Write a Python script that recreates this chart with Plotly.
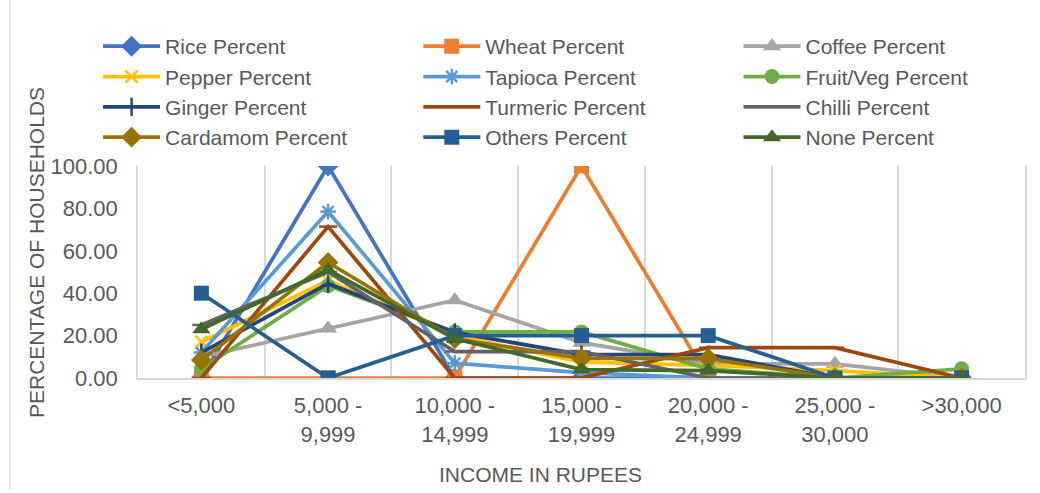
import plotly.graph_objects as go

categories = ["<5,000", "5,000 -<br>9,999", "10,000 -<br>14,999", "15,000 -<br>19,999",
              "20,000 -<br>24,999", "25,000 -<br>30,000", ">30,000"]

rice = [0, 100, 0, 0, 0, 0, 0]
wheat = [0, 0, 0, 100, 0, 0, 0]
coffee = [10, 23.33, 36.67, 16.67, 6.67, 6.67, 0]
pepper = [17, 46, 20, 7.5, 6, 3.5, 0]
tapioca = [12, 78.5, 7, 2.5, 0, 0, 0]
fruitveg = [4.35, 43.48, 21.74, 21.74, 4.35, 0, 4.35]
ginger = [12, 44.5, 21.5, 11, 11, 0, 0]
turmeric = [0, 71.43, 0, 0, 14.29, 14.29, 0]
chilli = [25, 50, 12.5, 12.5, 0, 0, 0]
cardamom = [8.5, 54.5, 18.5, 9.3, 9.2, 0, 0]
others = [40, 0, 20, 20, 20, 0, 0]
none_ = [23, 51, 18.5, 4, 3.5, 0, 0]

series = [
    ("Rice Percent", rice, "#4472C4", "diamond", 16, "legend"),
    ("Wheat Percent", wheat, "#ED7D31", "square", 15, "legend2"),
    ("Coffee Percent", coffee, "#A5A5A5", "triangle-up", 16, "legend3"),
    ("Pepper Percent", pepper, "#FFC000", "x-thin", 12, "legend"),
    ("Tapioca Percent", tapioca, "#5B9BD5", "asterisk", 13, "legend2"),
    ("Fruit/Veg Percent", fruitveg, "#70AD47", "circle", 15, "legend3"),
    ("Ginger Percent", ginger, "#264478", "line-ns", 13, "legend"),
    ("Turmeric Percent", turmeric, "#9E480E", "line-ew", 13, "legend2"),
    ("Chilli Percent", chilli, "#636363", "line-ew", 13, "legend3"),
    ("Cardamom Percent", cardamom, "#997300", "diamond", 16, "legend"),
    ("Others Percent", others, "#255E91", "square", 15, "legend2"),
    ("None Percent", none_, "#43682B", "triangle-up", 16, "legend3"),
]

fig = go.Figure()
for name, vals, color, sym, size, leg in series:
    open_sym = sym in ("x-thin", "asterisk", "line-ns", "line-ew")
    fig.add_trace(go.Scatter(
        x=categories, y=vals, name=name, mode="lines+markers",
        line=dict(color=color, width=3.75),
        marker=dict(symbol=sym, size=size, color=color,
                    line=dict(color=color, width=2.5 if open_sym else 0)),
        legend=leg,
    ))

txt = "#595959"
grid = "#D9D9D9"
legfont = dict(family="Liberation Sans, Arial, sans-serif", size=21, color=txt)
ly = 1.66
common = dict(xanchor="left", yanchor="top", y=ly, font=legfont,
              bgcolor="rgba(0,0,0,0)", itemwidth=57, tracegroupgap=0)

fig.update_layout(
    width=1040, height=493,
    margin=dict(l=138, r=15, t=166, b=115, autoexpand=False),
    paper_bgcolor="white", plot_bgcolor="white",
    font=dict(family="Liberation Sans, Arial, sans-serif", color=txt),
    legend=dict(x=-0.045, **common),
    legend2=dict(x=0.316, **common),
    legend3=dict(x=0.677, **common),
    xaxis=dict(
        type="category", tickson="boundaries", showgrid=True, gridcolor=grid, gridwidth=1.5,
        showline=True, linecolor=grid, linewidth=1.5, ticks="", automargin=False,
        tickfont=dict(size=22, color=txt), range=[-0.5, 6.5], ticklabelstandoff=7,
    ),
    yaxis=dict(
        range=[0, 100], dtick=20, tickformat=".2f", showgrid=False, zeroline=False,
        showline=True, mirror=True, linecolor=grid, linewidth=1.5, ticks="", automargin=False,
        tickfont=dict(size=22, color=txt), ticklabelstandoff=14,
    ),
    annotations=[
        dict(text="PERCENTAGE OF HOUSEHOLDS", xref="paper", yref="paper",
             x=(36 - 138) / 887, y=(378 - 253) / 212, textangle=-90,
             xanchor="center", yanchor="middle",
             showarrow=False, font=dict(size=21, color=txt)),
        dict(text="INCOME IN RUPEES", xref="paper", yref="paper",
             x=(540 - 138) / 887, y=(378 - 474) / 212,
             xanchor="center", yanchor="middle",
             showarrow=False, font=dict(size=21, color=txt)),
    ],
    shapes=[
        dict(type="line", xref="paper", yref="paper",
             x0=(10 - 138) / 887, x1=(10 - 138) / 887,
             y0=(378 - 490) / 212, y1=(378 - 0) / 212,
             line=dict(color=grid, width=1.3)),
    ],
)

fig.write_html("out.html", config={"displayModeBar": False},
               post_script="document.body.style.margin='0px';document.body.style.padding='0px';")
